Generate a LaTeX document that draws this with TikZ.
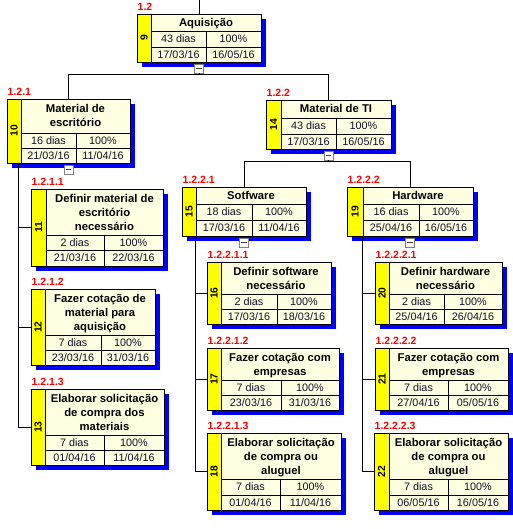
\documentclass[tikz,border=0pt]{standalone}
\usepackage{fontspec}
\setmainfont{Liberation Sans}
\usetikzlibrary{calc}
\definecolor{cream}{HTML}{FFFFE1}
\definecolor{shadowblue}{HTML}{0000FF}
\definecolor{stripyellow}{HTML}{FFFF00}
\definecolor{labred}{HTML}{FF0000}
\definecolor{datink}{HTML}{101028}
\tikzset{
  shadowst/.style={fill=shadowblue},
  cell/.style={line width=0.9pt, black},
  conn/.style={line width=0.9pt, black},
  titst/.style={font=\bfseries\fontsize{11.3}{14}\selectfont, inner sep=0pt, anchor=base},
  datst/.style={font=\fontsize{10.8}{12}\selectfont, text=datink, inner sep=0pt, text height=7.6pt, text depth=0pt},
  numst/.style={font=\bfseries\fontsize{10.3}{12}\selectfont, inner sep=0pt, text height=7.4pt, text depth=0pt, rotate=90},
  labst/.style={font=\bfseries\fontsize{10.5}{12}\selectfont, text=labred, inner sep=0pt, anchor=base west},
  colst/.style={draw=gray, fill=white, minimum size=9pt, inner sep=0pt, line width=0.8pt,
    path picture={\draw[line width=0.8pt, black!75] ([xshift=-2.6pt]path picture bounding box.center) -- ([xshift=2.6pt]path picture bounding box.center);}},
}
\newcommand\wgeo[9]{\def\wN{#1}\def\wL{#2}\def\wT{#3}\def\wR{#4}\def\wB{#5}\def\wS{#6}\def\wTB{#7}\def\wRB{#8}\def\wM{#9}}
% number, label, title lines, line count, duration, start, end
\newcommand\wtxt[7]{%
  \fill[shadowst] (\wL+5,\wT+5) rectangle (\wR+5,\wB+5);
  \node[fill=cream, inner sep=0pt, outer sep=0pt,
        minimum width={(\wR-\wL)*1pt}, minimum height={(\wB-\wT)*1pt}]
        (\wN) at ({(\wL+\wR)/2},{(\wT+\wB)/2}) {};
  \fill[stripyellow] (\wL,\wT) rectangle (\wS,\wB);
  \draw[cell] (\wS,\wT) -- (\wS,\wB) (\wS,\wTB) -- (\wR,\wTB) (\wS,\wRB) -- (\wR,\wRB) (\wM,\wTB) -- (\wM,\wB);
  \draw[cell] (\wL,\wT) rectangle (\wR,\wB);
  \node[numst] (\wN-n) at ({(\wL+\wS)/2},{(\wT+\wB)/2}) {#1};
  \node[labst] (\wN-l) at (\wL+0.5,\wT-3.8) {#2};
  \foreach \ln [count=\i] in {#3} {
    \node[titst] (\wN-t\i) at ({(\wS+\wR)/2},{(\wT+\wTB)/2+14*(\i-1)-7*(#4-1)+4}) {\ln};
  }
  \node[datst] (\wN-d) at ({(\wS+\wM)/2},{(\wTB+\wRB)/2}) {#5};
  \node[datst] (\wN-p) at ({(\wM+\wR)/2},{(\wTB+\wRB)/2}) {100\%};
  \node[datst] (\wN-s) at ({(\wS+\wM)/2},{(\wRB+\wB)/2}) {#6};
  \node[datst] (\wN-e) at ({(\wM+\wR)/2},{(\wRB+\wB)/2}) {#7};
}
\begin{document}
\begin{tikzpicture}[x=1pt, y=-1pt]
\useasboundingbox (0,0) rectangle (512,529);
\fill[white] (0,0) rectangle (512,529);

\wgeo{b9}{137}{14}{261}{62}{151}{31}{47}{206}\wtxt{9}{1.2}{Aquisição}{1}{43 dias}{17/03/16}{16/05/16}
\wgeo{b10}{7}{99}{130}{163}{21}{133}{148}{76}\wtxt{10}{1.2.1}{Material de, escritório}{2}{16 dias}{21/03/16}{11/04/16}
\wgeo{b14}{266}{100}{391}{149}{281}{118}{134}{336}\wtxt{14}{1.2.2}{Material de TI}{1}{43 dias}{17/03/16}{16/05/16}
\wgeo{b11}{31}{189}{163}{266}{46}{235}{250}{104}\wtxt{11}{1.2.1.1}{Definir material de, escritório, necessário}{3}{2 dias}{21/03/16}{22/03/16}
\wgeo{b12}{31}{289}{155}{365}{45}{335}{350}{101}\wtxt{12}{1.2.1.2}{Fazer cotação de, material para, aquisição}{3}{7 dias}{23/03/16}{31/03/16}
\wgeo{b13}{31}{389}{164}{465}{45}{435}{450}{104}\wtxt{13}{1.2.1.3}{Elaborar solicitação, de compra dos, materiais}{3}{7 dias}{01/04/16}{11/04/16}
\wgeo{b15}{182}{187}{306}{236}{196}{204}{220}{252}\wtxt{15}{1.2.2.1}{Sotfware}{1}{18 dias}{17/03/16}{11/04/16}
\wgeo{b16}{207}{262}{331}{324}{221}{294}{309}{277}\wtxt{16}{1.2.2.1.1}{Definir software, necessário}{2}{2 dias}{17/03/16}{18/03/16}
\wgeo{b17}{207}{348}{339}{410}{221}{380}{395}{281}\wtxt{17}{1.2.2.1.2}{Fazer cotação com, empresas}{2}{7 dias}{23/03/16}{31/03/16}
\wgeo{b18}{207}{433}{341}{510}{221}{479}{495}{280}\wtxt{18}{1.2.2.1.3}{Elaborar solicitação, de compra ou, aluguel}{3}{7 dias}{01/04/16}{11/04/16}
\wgeo{b19}{347}{187}{473}{236}{363}{204}{220}{419}\wtxt{19}{1.2.2.2}{Hardware}{1}{16 dias}{25/04/16}{16/05/16}
\wgeo{b20}{375}{262}{502}{324}{389}{294}{309}{444}\wtxt{20}{1.2.2.2.1}{Definir hardware, necessário}{2}{2 dias}{25/04/16}{26/04/16}
\wgeo{b21}{375}{348}{508}{410}{389}{380}{395}{448}\wtxt{21}{1.2.2.2.2}{Fazer cotação com, empresas}{2}{7 dias}{27/04/16}{05/05/16}
\wgeo{b22}{374}{433}{508}{510}{389}{479}{495}{448}\wtxt{22}{1.2.2.2.3}{Elaborar solicitação, de compra ou, aluguel}{3}{7 dias}{06/05/16}{16/05/16}

% collapse buttons
\node[colst] (c9) at ([yshift=-6.5pt]b9.south) {};
\node[colst] (c10) at ([yshift=-6.5pt]b10.south) {};
\node[colst] (c14) at ([yshift=-6.5pt]b14.south) {};
\node[colst] (c15) at ([yshift=-6.5pt]b15.south) {};
\node[colst] (c19) at ([yshift=-6.5pt]b19.south) {};

% connectors
\coordinate (top) at (199,0);
\coordinate (h9) at (0,74);
\coordinate (h14) at (0,161);
\coordinate (t10) at (18,163);
\coordinate (t15) at (195,236);
\coordinate (t19) at (362,236);
\draw[conn] (top) -- (b9.north);
\draw[conn] (c9.south) -- (c9.south |- h9);
\draw[conn] (b10.north) -- (b10.north |- h9) -- (b14.north |- h9) -- (b14.north);
\draw[conn] (c14.south) -- (c14.south |- h14);
\draw[conn] (b15.north) -- (b15.north |- h14) -- (b19.north |- h14) -- (b19.north);
\draw[conn] (t10) |- (b11.west);
\draw[conn] (t10) |- (b12.west);
\draw[conn] (t10) |- (b13.west);
\draw[conn] (t15) |- (b16.west);
\draw[conn] (t15) |- (b17.west);
\draw[conn] (t15) |- (b18.west);
\draw[conn] (t19) |- (b20.west);
\draw[conn] (t19) |- (b21.west);
\draw[conn] (t19) |- (b22.west);
\end{tikzpicture}
\end{document}
